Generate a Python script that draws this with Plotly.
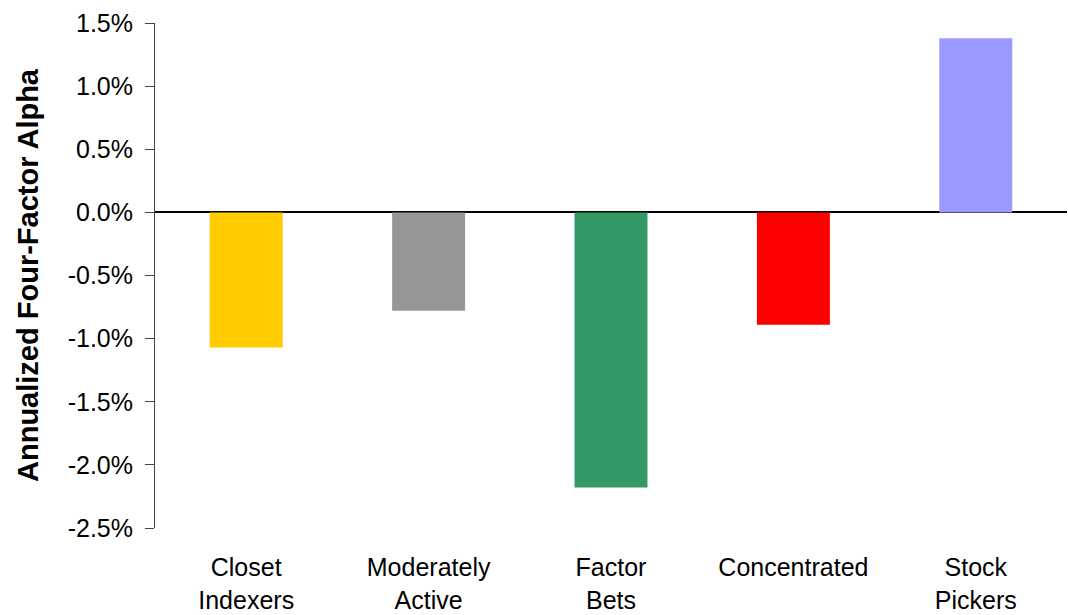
import plotly.graph_objects as go

categories = ["Closet<br>Indexers", "Moderately<br>Active", "Factor<br>Bets", "Concentrated", "Stock<br>Pickers"]
alpha_pct = [-1.07, -0.78, -2.18, -0.89, 1.38]
bar_colors = ["#FFCC00", "#969696", "#339966", "#FF0000", "#9999FF"]
y_ticks = [-2.5, -2.0, -1.5, -1.0, -0.5, 0.0, 0.5, 1.0, 1.5]
y_tick_text = ["-2.5%", "-2.0%", "-1.5%", "-1.0%", "-0.5%", "0.0%", "0.5%", "1.0%", "1.5%"]

fig = go.Figure(go.Bar(
    x=categories, y=alpha_pct, marker=dict(color=bar_colors, line=dict(width=0)),
    width=0.4, showlegend=False,
))

font_family = "Liberation Sans, Arial, sans-serif"
fig.update_layout(
    width=1068, height=615,
    margin=dict(l=155, r=1, t=23, b=87),
    paper_bgcolor="white", plot_bgcolor="white",
    font=dict(family=font_family, size=25, color="black"),
    xaxis=dict(showline=False, showgrid=False, zeroline=False, ticks="",
               tickfont=dict(size=25), ticklabelstandoff=22),
    yaxis=dict(range=[-2.5, 1.5], tickvals=y_ticks, ticktext=y_tick_text,
               showgrid=False, showline=True, linecolor="#444", linewidth=1,
               ticks="outside", ticklen=9, tickcolor="#444", tickwidth=1,
               ticklabelstandoff=7,
               zeroline=True, zerolinecolor="black", zerolinewidth=1.5,
               tickfont=dict(size=25),
               title=dict(text="<b>Annualized Four-Factor Alpha</b>", font=dict(size=29), standoff=20)),
)

fig.write_html("out.html")
